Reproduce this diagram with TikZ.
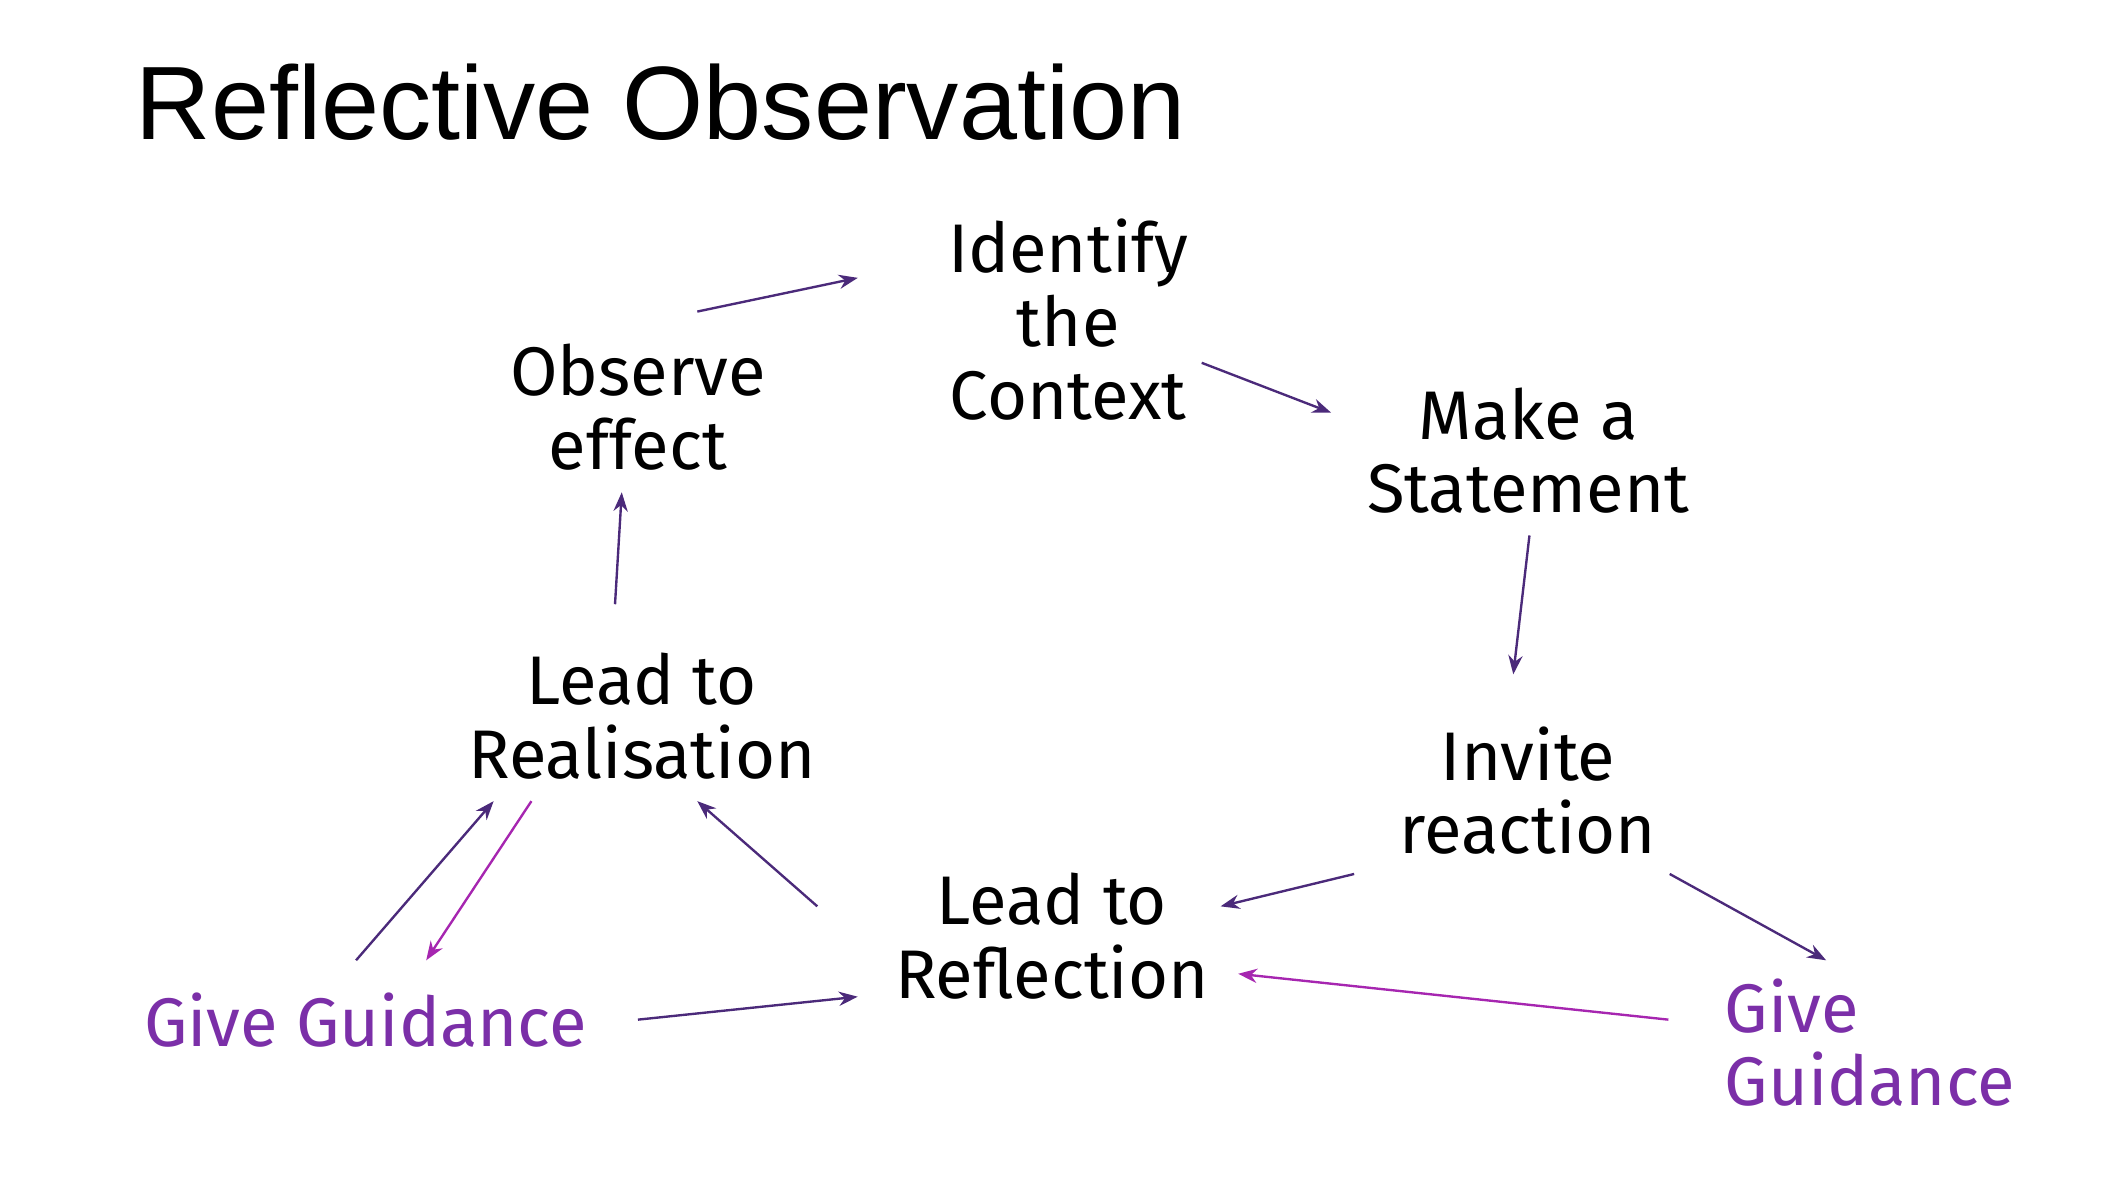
\documentclass[tikz,border=0pt]{standalone}
\usepackage{fontspec}
\setmainfont{Fira Sans}
\newfontfamily\titlefont{Liberation Sans}
\usetikzlibrary{arrows.meta}
\definecolor{dk}{HTML}{4B2A7A}
\definecolor{mg}{HTML}{A626B0}
\definecolor{gg}{HTML}{7B2FA8}
\begin{document}
\begin{tikzpicture}[x=0.01cm,y=-0.01cm,
  lab/.style={align=center,font=\fontsize{14.5}{15.5}\selectfont,inner sep=0pt},
  gd/.style={lab,text=gg},
  ar/.style={draw=dk,line width=0.5pt,-{Stealth[length=4pt,width=3pt]}},
  am/.style={ar,draw=mg}]
\useasboundingbox (0,0) rectangle (1560,884);
\node[anchor=west,inner sep=0pt,font=\titlefont\fontsize{22}{24}\selectfont] (title) at (100,76) {Reflective Observation};
\node[lab] (ctx) at (792,237) {Identify\\the\\Context};
\node[lab] (obs) at (473,302) {Observe\\effect};
\node[lab] (stm) at (1133,334) {Make a\\Statement};
\node[lab] (inv) at (1133,586) {Invite\\reaction};
\node[lab] (real) at (476,531) {Lead to\\Realisation};
\node[lab] (refl) at (780,694) {Lead to\\Reflection};
\node[gd] (gl) at (271,756) {Give Guidance};
\node[gd,align=left,anchor=west] (gr) at (1278,773) {Give\\Guidance};
\foreach \n/\x/\y in {a1/517/231,b1/636/206,a2/891/269,b2/987/306,a3/1134/397,b3/1122/500,
 a4/1004/648,b4/905/672,a5/1238/648,b5/1354/712,a6/1237/756,b6/918/722,a7/473/756,b7/636/739,
 a8/606/672,b8/517/594,a9/264/712,b9/366/594,a10/394/594,b10/316/712,a11/456/448,b11/461/365}
  \coordinate (\n) at (\x,\y);
\draw[ar] (a1) -- (b1);
\draw[ar] (a2) -- (b2);
\draw[ar] (a3) -- (b3);
\draw[ar] (a4) -- (b4);
\draw[ar] (a5) -- (b5);
\draw[am] (a6) -- (b6);
\draw[ar] (a7) -- (b7);
\draw[ar] (a8) -- (b8);
\draw[ar] (a9) -- (b9);
\draw[am] (a10) -- (b10);
\draw[ar] (a11) -- (b11);
\end{tikzpicture}
\end{document}
